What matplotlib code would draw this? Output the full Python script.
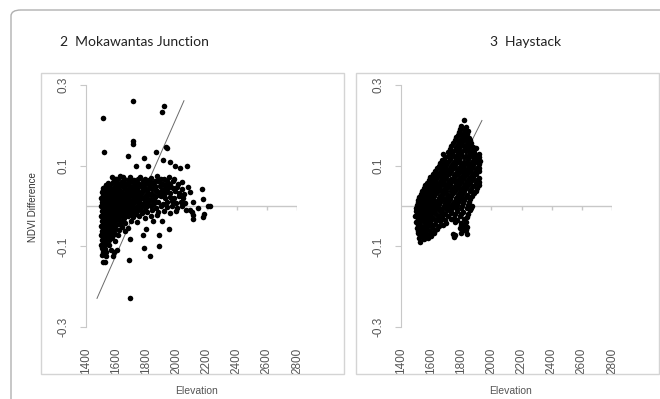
import numpy as np
import matplotlib
matplotlib.use('Agg')
import matplotlib.pyplot as plt
from matplotlib.patches import Rectangle, FancyBboxPatch

# elevation / NDVI difference points
mokawantas_pts = [
    # outliers
    (1513, 0.217), (1712, 0.261), (1918, 0.249), (1904, 0.232), (1712, 0.160), (1712, 0.153),
    (1519, 0.135), (1679, 0.123), (1785, 0.120), (1864, 0.133), (1931, 0.147), (1938, 0.145),
    (1732, 0.100), (1811, 0.100), (1957, 0.108), (1911, 0.115), (1990, 0.100), (2024, 0.095),
    (2070, 0.098), (1533, 0.051), (1592, 0.068), (1645, 0.073), (1692, 0.070), (2170, 0.041),
    (2177, 0.018), (2210, 0.000), (2220, 0.001), (1692, -0.227), (1685, -0.133), (1515, -0.140),
    (1525, -0.140), (1825, -0.123), (1785, -0.103), (1884, -0.098), (1884, -0.071), (1778, -0.071),
    (1692, -0.081), (1951, -0.056), (1798, -0.056), (1845, -0.038), (1904, -0.038), (2110, -0.031),
    (2110, -0.022), (2177, -0.028), (2183, -0.020), (2063, -0.009), (2090, -0.011), (2143, -0.006),
    (2103, -0.014), (1586, -0.113), (1605, -0.108), (1513, -0.113), (1579, -0.125),
    # main cloud
    (1570, 0.072), (1600, 0.066), (1625, 0.074), (1655, 0.068), (1690, 0.071), (1720, 0.065),
    (1760, 0.073), (1790, 0.067), (1830, 0.070), (1870, 0.075), (1920, 0.068), (1950, 0.072), (1985, 0.066),
    (1545, 0.056), (1580, 0.060), (1610, 0.055), (1640, 0.059), (1665, 0.054), (1700, 0.061),
    (1735, 0.057), (1765, 0.052), (1800, 0.059), (1840, 0.056), (1880, 0.061), (1910, 0.054),
    (1945, 0.058), (1975, 0.062), (2010, 0.055), (2040, 0.059),
    (1515, 0.044), (1540, 0.048), (1565, 0.043), (1590, 0.047), (1615, 0.045), (1640, 0.049),
    (1660, 0.042), (1690, 0.046), (1715, 0.050), (1740, 0.044), (1770, 0.047), (1800, 0.043),
    (1825, 0.048), (1855, 0.045), (1890, 0.049), (1920, 0.042), (1950, 0.046), (1980, 0.044),
    (2005, 0.048), (2035, 0.043), (2075, 0.046),
    (1505, 0.035), (1530, 0.031), (1555, 0.036), (1580, 0.032), (1600, 0.037), (1625, 0.033),
    (1650, 0.030), (1675, 0.036), (1700, 0.032), (1725, 0.035), (1750, 0.031), (1780, 0.037),
    (1810, 0.033), (1840, 0.030), (1870, 0.036), (1900, 0.032), (1930, 0.035), (1960, 0.031),
    (1990, 0.036), (2020, 0.033), (2050, 0.030), (2090, 0.034),
    (1500, 0.021), (1520, 0.025), (1545, 0.019), (1570, 0.023), (1595, 0.020), (1620, 0.024),
    (1645, 0.018), (1670, 0.022), (1695, 0.025), (1720, 0.019), (1745, 0.023), (1775, 0.020),
    (1805, 0.024), (1830, 0.018), (1860, 0.022), (1895, 0.025), (1925, 0.019), (1955, 0.023),
    (1985, 0.020), (2015, 0.024), (2045, 0.019),
    (1505, 0.011), (1525, 0.007), (1550, 0.012), (1575, 0.008), (1600, 0.013), (1625, 0.009),
    (1650, 0.006), (1680, 0.011), (1705, 0.008), (1730, 0.012), (1760, 0.007), (1790, 0.010),
    (1820, 0.013), (1850, 0.008), (1880, 0.011), (1910, 0.006), (1940, 0.010), (1970, 0.012),
    (2000, 0.007), (2030, 0.011), (2060, 0.008), (2110, 0.010),
    (1500, -0.001), (1520, -0.005), (1540, 0.001), (1565, -0.003), (1590, 0.000), (1615, -0.004),
    (1640, -0.001), (1665, -0.005), (1690, 0.001), (1715, -0.002), (1740, -0.005), (1770, 0.000),
    (1800, -0.003), (1830, 0.001), (1865, -0.004), (1900, -0.001), (1935, -0.003), (1970, 0.000),
    (2005, -0.004), (2040, -0.001),
    (1505, -0.013), (1525, -0.017), (1550, -0.012), (1575, -0.016), (1600, -0.011), (1630, -0.015),
    (1655, -0.018), (1680, -0.013), (1710, -0.016), (1740, -0.012), (1770, -0.017), (1805, -0.014),
    (1840, -0.011), (1880, -0.016), (1920, -0.013), (1960, -0.017), (2000, -0.012),
    (1500, -0.025), (1520, -0.029), (1545, -0.024), (1570, -0.028), (1595, -0.023), (1620, -0.027),
    (1650, -0.030), (1680, -0.025), (1715, -0.028), (1750, -0.024), (1790, -0.029), (1830, -0.026),
    (1870, -0.023),
    (1505, -0.037), (1525, -0.041), (1550, -0.036), (1575, -0.040), (1600, -0.035), (1630, -0.039),
    (1660, -0.042), (1700, -0.037), (1740, -0.040),
    (1500, -0.049), (1520, -0.053), (1545, -0.048), (1570, -0.052), (1600, -0.047), (1640, -0.051),
    (1680, -0.054),
    (1505, -0.061), (1525, -0.065), (1550, -0.060), (1580, -0.064), (1620, -0.059), (1660, -0.063),
    (1500, -0.073), (1520, -0.077), (1545, -0.072), (1575, -0.076), (1610, -0.071),
    (1505, -0.085), (1525, -0.089), (1555, -0.084), (1590, -0.088),
    (1500, -0.097), (1520, -0.101), (1550, -0.096),
    (1510, -0.109), (1535, -0.113), (1565, -0.108),
    (1505, -0.121), (1530, -0.125),
]

# the solid core of the Mokawantas cloud
mokawantas_core = [
    (1590, 0.063), (1615, 0.066), (1645, 0.062), (1680, 0.065), (1710, 0.061), (1745, 0.066),
    (1775, 0.063), (1815, 0.064), (1855, 0.062), (1895, 0.066), (1935, 0.063),
    (1530, 0.051), (1560, 0.053), (1595, 0.050), (1625, 0.054), (1655, 0.051), (1685, 0.053),
    (1720, 0.050), (1750, 0.054), (1785, 0.051), (1820, 0.052), (1860, 0.050), (1895, 0.054),
    (1930, 0.051), (1960, 0.053),
    (1510, 0.040), (1535, 0.038), (1560, 0.041), (1585, 0.039), (1610, 0.042), (1635, 0.038),
    (1665, 0.041), (1690, 0.039), (1715, 0.042), (1745, 0.038), (1775, 0.041), (1805, 0.039),
    (1835, 0.041), (1865, 0.038), (1905, 0.040), (1940, 0.041),
    (1510, 0.028), (1540, 0.026), (1565, 0.029), (1590, 0.027), (1615, 0.030), (1640, 0.026),
    (1665, 0.029), (1690, 0.027), (1715, 0.030), (1740, 0.026), (1765, 0.029), (1795, 0.027),
    (1825, 0.029), (1855, 0.026), (1885, 0.028), (1915, 0.027),
    (1510, 0.016), (1535, 0.014), (1560, 0.017), (1585, 0.015), (1610, 0.016), (1635, 0.013),
    (1660, 0.017), (1685, 0.015), (1710, 0.016), (1735, 0.014), (1760, 0.017), (1790, 0.015),
    (1820, 0.016), (1850, 0.014),
    (1510, 0.004), (1535, 0.002), (1560, 0.005), (1585, 0.003), (1610, 0.004), (1640, 0.002),
    (1665, 0.005), (1690, 0.003), (1715, 0.004), (1745, 0.002), (1775, 0.005), (1810, 0.003),
    (1845, 0.004),
    (1510, -0.008), (1530, -0.010), (1555, -0.007), (1580, -0.009), (1605, -0.008), (1630, -0.010),
    (1655, -0.007), (1680, -0.009), (1705, -0.008), (1730, -0.010), (1760, -0.007), (1790, -0.009),
    (1510, -0.020), (1535, -0.022), (1560, -0.019), (1585, -0.021), (1610, -0.020), (1640, -0.022),
    (1665, -0.019), (1695, -0.021), (1730, -0.020),
    (1510, -0.032), (1535, -0.034), (1560, -0.031), (1585, -0.033), (1615, -0.032), (1645, -0.034),
    (1510, -0.044), (1535, -0.046), (1560, -0.043), (1590, -0.045), (1620, -0.044),
    (1510, -0.056), (1535, -0.058), (1565, -0.055), (1595, -0.057),
    (1510, -0.068), (1535, -0.070), (1560, -0.067), (1595, -0.069),
    (1510, -0.080), (1535, -0.082), (1565, -0.079),
    (1510, -0.092), (1535, -0.094),
    (1505, -0.104), (1528, -0.106),
]

haystack_pts = [
    (1815, 0.212),
    (1800, 0.198), (1830, 0.195),
    (1785, 0.184), (1815, 0.181), (1845, 0.186),
    (1765, 0.170), (1795, 0.167), (1825, 0.172), (1850, 0.168),
    (1745, 0.156), (1775, 0.153), (1805, 0.158), (1835, 0.154), (1865, 0.157),
    (1725, 0.142), (1755, 0.139), (1785, 0.144), (1815, 0.140), (1845, 0.143), (1875, 0.139), (1895, 0.144),
    (1680, 0.128), (1710, 0.125), (1740, 0.130), (1770, 0.126), (1800, 0.129), (1830, 0.124),
    (1860, 0.130), (1890, 0.126), (1915, 0.129),
    (1670, 0.114), (1695, 0.111), (1725, 0.116), (1755, 0.112), (1785, 0.115), (1815, 0.110),
    (1845, 0.116), (1875, 0.112), (1905, 0.115), (1925, 0.111),
    (1650, 0.100), (1675, 0.097), (1700, 0.102), (1730, 0.098), (1760, 0.101), (1790, 0.096),
    (1820, 0.102), (1850, 0.098), (1880, 0.101), (1910, 0.097),
    (1625, 0.086), (1650, 0.083), (1680, 0.088), (1705, 0.084), (1735, 0.087), (1765, 0.082),
    (1795, 0.088), (1825, 0.084), (1855, 0.087), (1885, 0.083), (1915, 0.086),
    (1595, 0.072), (1620, 0.069), (1645, 0.074), (1675, 0.070), (1700, 0.073), (1730, 0.068),
    (1760, 0.074), (1790, 0.070), (1820, 0.073), (1850, 0.069), (1880, 0.072), (1920, 0.070),
    (1575, 0.058), (1600, 0.055), (1625, 0.060), (1650, 0.056), (1680, 0.059), (1705, 0.054),
    (1735, 0.060), (1765, 0.056), (1795, 0.059), (1825, 0.055), (1860, 0.058), (1895, 0.056), (1920, 0.060),
    (1550, 0.044), (1575, 0.041), (1600, 0.046), (1625, 0.042), (1655, 0.045), (1680, 0.040),
    (1710, 0.046), (1740, 0.042), (1770, 0.045), (1800, 0.041), (1830, 0.044), (1865, 0.042), (1905, 0.045),
    (1530, 0.030), (1555, 0.027), (1580, 0.032), (1605, 0.028), (1630, 0.031), (1660, 0.026),
    (1685, 0.032), (1715, 0.028), (1745, 0.031), (1775, 0.027), (1805, 0.030), (1840, 0.028), (1885, 0.031),
    (1515, 0.016), (1540, 0.013), (1565, 0.018), (1590, 0.014), (1615, 0.017), (1640, 0.012),
    (1670, 0.018), (1695, 0.014), (1725, 0.017), (1755, 0.013), (1785, 0.016), (1820, 0.014), (1860, 0.017),
    (1505, 0.002), (1530, -0.001), (1555, 0.004), (1580, 0.000), (1605, 0.003), (1630, -0.002),
    (1655, 0.004), (1685, 0.000), (1710, 0.003), (1740, -0.001), (1770, 0.002), (1805, 0.000),
    (1845, 0.003), (1870, 0.001),
    (1500, -0.012), (1520, -0.015), (1545, -0.010), (1570, -0.014), (1595, -0.011), (1620, -0.016),
    (1650, -0.010), (1675, -0.014), (1705, -0.011), (1735, -0.015), (1770, -0.012), (1810, -0.014), (1855, -0.011),
    (1495, -0.026), (1515, -0.029), (1540, -0.024), (1565, -0.028), (1590, -0.025), (1615, -0.030),
    (1645, -0.024), (1675, -0.028), (1710, -0.025), (1750, -0.029), (1790, -0.026), (1840, -0.028),
    (1500, -0.040), (1520, -0.043), (1545, -0.038), (1570, -0.042), (1595, -0.039), (1625, -0.044),
    (1660, -0.038), (1700, -0.042), (1760, -0.040), (1800, -0.043), (1830, -0.039),
    (1505, -0.054), (1525, -0.057), (1550, -0.052), (1575, -0.056), (1605, -0.053), (1640, -0.057),
    (1790, -0.054), (1815, -0.058), (1840, -0.053),
    (1510, -0.068), (1535, -0.071), (1560, -0.066), (1590, -0.070), (1620, -0.067), (1745, -0.070),
    (1800, -0.066), (1835, -0.069),
    (1520, -0.080), (1550, -0.083), (1580, -0.079), (1750, -0.078),
    (1525, -0.090),
]

# points lying between the rows above, Haystack band is nearly solid
haystack_core = [
    (1790, 0.191), (1820, 0.189),
    (1780, 0.177), (1805, 0.175), (1835, 0.178),
    (1755, 0.163), (1785, 0.161), (1810, 0.164), (1840, 0.162), (1860, 0.164),
    (1735, 0.149), (1765, 0.147), (1790, 0.150), (1820, 0.148), (1850, 0.150), (1880, 0.147),
    (1710, 0.135), (1740, 0.133), (1770, 0.136), (1800, 0.134), (1830, 0.136), (1860, 0.133), (1885, 0.135),
    (1690, 0.121), (1725, 0.119), (1755, 0.122), (1785, 0.120), (1815, 0.122), (1845, 0.119),
    (1875, 0.121), (1905, 0.120), (1920, 0.122),
    (1660, 0.107), (1685, 0.105), (1715, 0.108), (1745, 0.106), (1775, 0.108), (1805, 0.105),
    (1835, 0.107), (1865, 0.106), (1895, 0.108), (1920, 0.105),
    (1640, 0.093), (1665, 0.091), (1690, 0.094), (1720, 0.092), (1750, 0.094), (1780, 0.091),
    (1810, 0.093), (1840, 0.092), (1870, 0.094), (1900, 0.091), (1920, 0.093),
    (1610, 0.079), (1635, 0.077), (1665, 0.080), (1690, 0.078), (1720, 0.080), (1750, 0.077),
    (1780, 0.079), (1810, 0.078), (1840, 0.080), (1870, 0.077), (1900, 0.079),
    (1585, 0.065), (1610, 0.063), (1635, 0.066), (1665, 0.064), (1690, 0.066), (1720, 0.063),
    (1750, 0.065), (1780, 0.064), (1810, 0.066), (1840, 0.063), (1870, 0.065), (1905, 0.064),
    (1560, 0.051), (1590, 0.049), (1615, 0.052), (1640, 0.050), (1665, 0.052), (1695, 0.049),
    (1725, 0.051), (1755, 0.050), (1785, 0.052), (1815, 0.049), (1845, 0.051), (1880, 0.050), (1915, 0.052),
    (1540, 0.037), (1565, 0.035), (1590, 0.038), (1615, 0.036), (1645, 0.038), (1670, 0.035),
    (1700, 0.037), (1730, 0.036), (1760, 0.038), (1790, 0.035), (1820, 0.037), (1855, 0.036), (1895, 0.038),
    (1520, 0.023), (1545, 0.021), (1570, 0.024), (1595, 0.022), (1620, 0.024), (1650, 0.021),
    (1675, 0.023), (1705, 0.022), (1735, 0.024), (1765, 0.021), (1795, 0.023), (1830, 0.022), (1870, 0.024),
    (1510, 0.009), (1535, 0.007), (1560, 0.010), (1585, 0.008), (1610, 0.010), (1635, 0.007),
    (1660, 0.009), (1690, 0.008), (1715, 0.010), (1745, 0.007), (1775, 0.009), (1810, 0.008), (1850, 0.010),
    (1500, -0.005), (1525, -0.007), (1550, -0.004), (1575, -0.006), (1600, -0.004), (1625, -0.007),
    (1650, -0.005), (1680, -0.006), (1705, -0.004), (1735, -0.007), (1765, -0.005), (1800, -0.006),
    (1840, -0.004), (1865, -0.006),
    (1505, -0.019), (1530, -0.021), (1555, -0.018), (1580, -0.020), (1605, -0.018), (1635, -0.021),
    (1665, -0.019), (1695, -0.020), (1730, -0.018), (1760, -0.021), (1800, -0.019), (1845, -0.020),
    (1510, -0.033), (1530, -0.035), (1555, -0.032), (1580, -0.034), (1605, -0.032), (1630, -0.035),
    (1660, -0.033), (1690, -0.034), (1730, -0.032), (1770, -0.035), (1820, -0.033),
    (1510, -0.047), (1535, -0.049), (1560, -0.046), (1585, -0.048), (1615, -0.046), (1650, -0.049),
    (1680, -0.047), (1800, -0.048), (1825, -0.046),
    (1515, -0.061), (1540, -0.063), (1565, -0.060), (1590, -0.062), (1625, -0.060), (1805, -0.062),
    (1830, -0.060),
    (1525, -0.074), (1545, -0.076), (1570, -0.073), (1600, -0.075), (1755, -0.073),
]

# trend line end points (elevation, ndvi)
mokawantas_fit = [(1473, -0.229), (2050, 0.261)]
haystack_fit = [(1533, -0.090), (1937, 0.212)]

titles = ['2  Mokawantas Junction', '3  Haystack']
x_ticks = [1400, 1600, 1800, 2000, 2200, 2400, 2600, 2800]
y_ticks = [-0.3, -0.1, 0.1, 0.3]
y_tick_labels = ['-0.3', '-0.1', '0.1', '0.3']

W, H = 660, 399
fig = plt.figure(figsize=(W / 100, H / 100), dpi=100)
plt.rcParams['font.family'] = ['Liberation Sans', 'DejaVu Sans']

def box(l, t, r, b):
    return [l / W, 1 - b / H, (r - l) / W, (b - t) / H]

# outer chart border and panel frames
fig.patches.append(FancyBboxPatch((11 / W, -0.1), 1.2, 1 - 10 / H + 0.1,
                                  boxstyle='round,pad=0,rounding_size=0.015',
                                  transform=fig.transFigure, fill=False,
                                  edgecolor='#b0b0b0', linewidth=1.0))
for l, r in [(41, 344), (356, 659)]:
    fig.patches.append(Rectangle((l / W, 1 - 374 / H), (r - l) / W, (374 - 73) / H,
                                 transform=fig.transFigure, fill=False,
                                 edgecolor='#d4d4d4', linewidth=1.0))

tick_col = '#555555'
axis_col = '#c8c8c8'
panels = [(mokawantas_pts + mokawantas_core, mokawantas_fit, (86, 297), 60, 'left', 197),
          (haystack_pts + haystack_core, haystack_fit, (401, 612), 526, 'center', 510)]

for i, (pts, fit, (l, r), tx, tha, lx) in enumerate(panels):
    ax = fig.add_axes(box(l, 85, r, 327))
    pts = np.array(pts)
    fit = np.array(fit)
    ax.plot(fit[:, 0], fit[:, 1], color='#6a6a6a', linewidth=0.7, zorder=2)
    ax.scatter(pts[:, 0], pts[:, 1], s=16, color='black', linewidths=0, zorder=3)

    ax.set_xlim(1400, 2800)
    ax.set_ylim(-0.3, 0.3)
    for side in ['top', 'right', 'bottom']:
        ax.spines[side].set_visible(False)
    ax.spines['left'].set_color(axis_col)
    ax.patch.set_alpha(0)

    # zero line with its own tick marks
    ax.axhline(0, color=axis_col, linewidth=1.0, zorder=1)
    ax.vlines(x_ticks[1:], -0.01, 0, color=axis_col, linewidth=1.0, zorder=1)

    ax.set_xticks(x_ticks)
    ax.set_xticklabels([str(v) for v in x_ticks], rotation=90)
    ax.tick_params(axis='x', length=0, pad=15, labelsize=8.5, labelcolor=tick_col)
    ax.set_yticks(y_ticks)
    ax.set_yticklabels(y_tick_labels, rotation=90, va='center')
    ax.tick_params(axis='y', length=4, color=axis_col, pad=8, labelsize=8.5, labelcolor=tick_col)

    fig.text(tx / W, 1 - 42 / H, titles[i], ha=tha, va='center', fontsize=10,
             family=['Lato', 'DejaVu Sans'], color='#222222')
    fig.text(lx / W, 1 - 391 / H, 'Elevation', ha='center', va='center',
             fontsize=7.5, color=tick_col)

fig.text(33 / W, 1 - 207 / H, 'NDVI Difference', rotation=90, ha='center', va='center',
         fontsize=7, color='#333333')

fig.savefig('out.png', dpi=100)
